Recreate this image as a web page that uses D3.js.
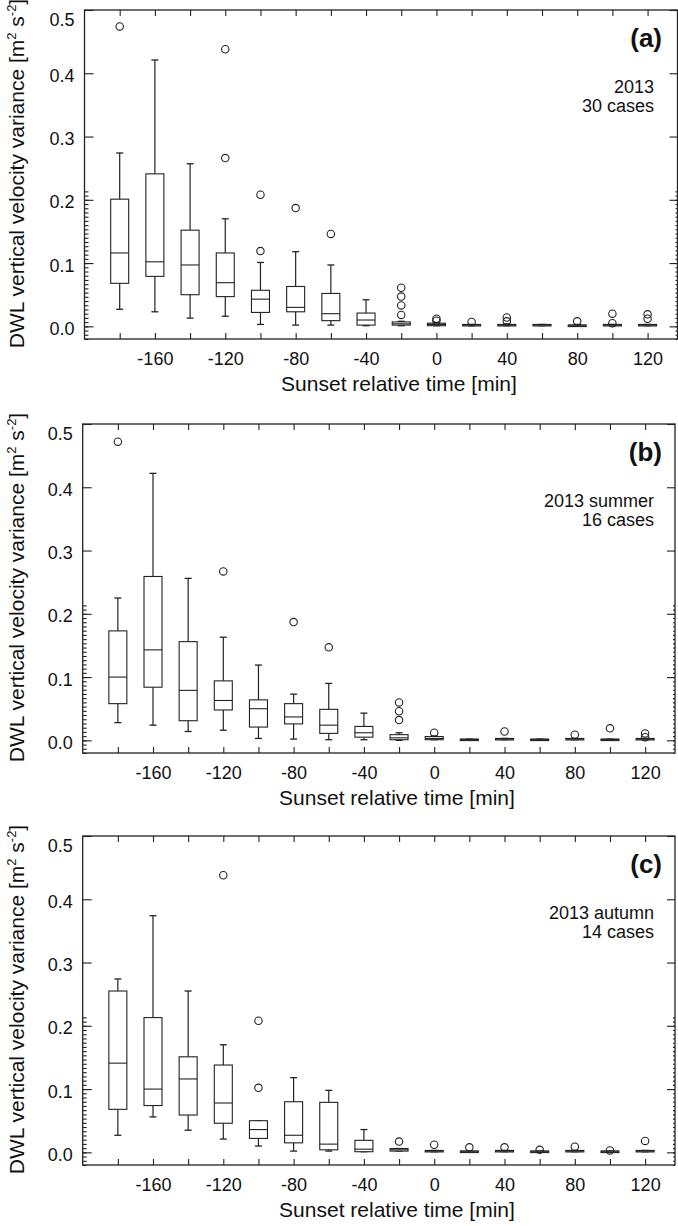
<!DOCTYPE html>
<html>
<head>
<meta charset="utf-8">
<script src="https://cdn.jsdelivr.net/npm/d3@7"></script>
<style>
  body { margin: 0; background: #fff; }
  svg text { font-family: "Liberation Sans", Arial, Helvetica, sans-serif; fill: #111; }
</style>
</head>
<body>
<div id="chart"></div>
<script>
// ========== Data ==========
const times = [-180, -160, -140, -120, -100, -80, -60, -40, -20, 0, 20, 40, 60, 80, 100, 120];
const tickLabels = [-160, -120, -80, -40, 0, 40, 80, 120];
const yTicks = [0.0, 0.1, 0.2, 0.3, 0.4, 0.5];

// (a) 2013, 30 cases
const aLow = [0.027, 0.023, 0.013, 0.016, 0.003, 0.002, 0.002, 0.001, 0.001, 0.001, 0.001, 0.001, 0.001, 0.001, 0.001, 0.001];
const aQ1  = [0.068, 0.079, 0.050, 0.047, 0.022, 0.023, 0.009, 0.002, 0.002, 0.001, 0.001, 0.001, 0.001, 0.001, 0.001, 0.001];
const aMed = [0.116, 0.102, 0.097, 0.069, 0.043, 0.030, 0.020, 0.010, 0.004, 0.003, 0.002, 0.002, 0.002, 0.002, 0.002, 0.002];
const aQ3  = [0.201, 0.241, 0.152, 0.116, 0.057, 0.063, 0.052, 0.021, 0.007, 0.005, 0.003, 0.003, 0.003, 0.002, 0.003, 0.003];
const aHigh = [0.274, 0.421, 0.257, 0.170, 0.101, 0.118, 0.097, 0.042, 0.008, 0.006, 0.003, 0.004, 0.003, 0.003, 0.003, 0.003];
const aOut = [[0.474], [], [], [0.438, 0.266], [0.208, 0.119], [0.187], [0.146], [], [0.061, 0.047, 0.033, 0.018],
              [0.012, 0.009], [0.007], [0.014, 0.008], [], [0.008], [0.020, 0.005], [0.019, 0.012]];

// (b) 2013 summer, 16 cases
const bLow = [0.028, 0.024, 0.014, 0.016, 0.003, 0.002, 0.001, 0.001, 0.000, 0.001, 0.001, 0.001, 0.001, 0.001, 0.001, 0.001];
const bQ1  = [0.058, 0.084, 0.031, 0.048, 0.021, 0.026, 0.011, 0.005, 0.001, 0.001, 0.001, 0.001, 0.001, 0.001, 0.001, 0.001];
const bMed = [0.100, 0.143, 0.079, 0.063, 0.050, 0.037, 0.024, 0.012, 0.004, 0.003, 0.0015, 0.002, 0.0015, 0.002, 0.0015, 0.002];
const bQ3  = [0.173, 0.259, 0.156, 0.094, 0.064, 0.058, 0.049, 0.022, 0.009, 0.006, 0.002, 0.003, 0.002, 0.003, 0.002, 0.003];
const bHigh = [0.225, 0.422, 0.256, 0.163, 0.119, 0.073, 0.090, 0.043, 0.012, 0.007, 0.002, 0.003, 0.002, 0.003, 0.002, 0.003];
const bOut = [[0.472], [], [], [0.267], [], [0.187], [0.147], [], [0.060, 0.046, 0.032],
              [0.012], [], [0.014], [], [0.009], [0.019], [0.011, 0.005]];

// (c) 2013 autumn, 14 cases
const cLow = [0.027, 0.056, 0.035, 0.021, 0.010, 0.002, 0.002, 0.001, 0.002, 0.001, 0.001, 0.001, 0.001, 0.001, 0.001, 0.001];
const cQ1  = [0.068, 0.074, 0.059, 0.046, 0.022, 0.015, 0.004, 0.001, 0.002, 0.001, 0.001, 0.001, 0.001, 0.001, 0.001, 0.001];
const cMed = [0.141, 0.100, 0.116, 0.078, 0.036, 0.027, 0.013, 0.005, 0.004, 0.002, 0.002, 0.002, 0.002, 0.002, 0.002, 0.002];
const cQ3  = [0.255, 0.213, 0.151, 0.138, 0.050, 0.080, 0.079, 0.019, 0.006, 0.003, 0.002, 0.003, 0.002, 0.003, 0.002, 0.003];
const cHigh = [0.274, 0.374, 0.255, 0.170, 0.050, 0.118, 0.098, 0.036, 0.006, 0.003, 0.002, 0.003, 0.002, 0.003, 0.002, 0.003];
const cOut = [[], [], [], [0.438], [0.208, 0.102], [], [], [], [0.017],
              [0.012], [0.008], [0.008], [0.004], [0.009], [0.003], [0.018]];

const panelLabels = ["(a)", "(b)", "(c)"];
const panelNotes = [["2013", "30 cases"], ["2013 summer", "16 cases"], ["2013 autumn", "14 cases"]];

// ========== Layout ==========
const W = 678, H = 1226;
const ink = "#222";
const panels = [
    { left: 84.5, right: 677.5, top: 10,  bottom: 339,  low: aLow, q1: aQ1, med: aMed, q3: aQ3, high: aHigh, out: aOut },
    { left: 82.7, right: 675,   top: 424, bottom: 753,  low: bLow, q1: bQ1, med: bMed, q3: bQ3, high: bHigh, out: bOut },
    { left: 82.7, right: 675,   top: 836, bottom: 1165, low: cLow, q1: cQ1, med: cMed, q3: cQ3, high: cHigh, out: cOut }
];

const svg = d3.select("#chart").append("svg")
    .attr("width", W)
    .attr("height", H);

const minorY = d3.range(0, 36).map(i => -0.02 + i * (0.1 / 15)).filter(v => v <= 0.5001 && v >= -0.0201);

panels.forEach((p, pi) => {
    const x = d3.scaleLinear().domain([-200, 137]).range([p.left, p.right]);
    const y = d3.scaleLinear().domain([-0.02, 0.5]).range([p.bottom, p.top]);
    const g = svg.append("g");

    // Minor ticks (left and right)
    g.append("g")
        .attr("transform", `translate(${p.left},0)`)
        .call(d3.axisLeft(y).tickValues(minorY).tickSize(-4).tickFormat(""))
        .call(s => s.select(".domain").remove());
    g.append("g")
        .attr("transform", `translate(${p.right},0)`)
        .call(d3.axisRight(y).tickValues(minorY).tickSize(-2).tickFormat(""))
        .call(s => s.select(".domain").remove());

    // Major y ticks
    g.append("g")
        .attr("transform", `translate(${p.left},0)`)
        .call(d3.axisLeft(y).tickValues(yTicks).tickSize(-9).tickPadding(10).tickFormat(d3.format(".1f")))
        .call(s => s.select(".domain").remove())
        .call(s => s.selectAll("text").attr("font-size", 18)
            .attr("dy", d => d === 0.5 ? "0.85em" : "0.45em"));
    g.append("g")
        .attr("transform", `translate(${p.right},0)`)
        .call(d3.axisRight(y).tickValues(yTicks).tickSize(-8).tickFormat(""))
        .call(s => s.select(".domain").remove());

    // x ticks (top and bottom)
    g.append("g")
        .attr("transform", `translate(0,${p.top})`)
        .call(d3.axisTop(x).tickValues(times).tickSize(-6).tickFormat(""))
        .call(s => s.select(".domain").remove());
    g.append("g")
        .attr("transform", `translate(0,${p.bottom})`)
        .call(d3.axisBottom(x).tickValues(times).tickSize(-6).tickPadding(13)
            .tickFormat(d => tickLabels.includes(d) ? d : ""))
        .call(s => s.select(".domain").remove())
        .call(s => s.selectAll("text").attr("font-size", 18));

    g.selectAll(".tick line").attr("stroke", ink).attr("stroke-width", 1.1);
    g.selectAll(".tick text").attr("fill", "#111").attr("font-family", "Liberation Sans, Arial, sans-serif");

    // Frame
    g.append("rect")
        .attr("x", p.left).attr("y", p.top)
        .attr("width", p.right - p.left).attr("height", p.bottom - p.top)
        .attr("fill", "none").attr("stroke", ink).attr("stroke-width", 1.3);

    // Boxes
    const bw = 18, cap = 3.5;
    const rows = times.map((t, i) => ({ t, lo: p.low[i], q1: p.q1[i], med: p.med[i], q3: p.q3[i], hi: p.high[i], out: p.out[i] }));
    const box = g.selectAll(".box").data(rows).enter().append("g").attr("class", "box");

    box.append("line")
        .attr("x1", d => x(d.t)).attr("x2", d => x(d.t))
        .attr("y1", d => y(d.q3)).attr("y2", d => y(d.hi))
        .attr("stroke", ink).attr("stroke-width", 1.2);
    box.append("line")
        .attr("x1", d => x(d.t)).attr("x2", d => x(d.t))
        .attr("y1", d => y(d.q1)).attr("y2", d => y(d.lo))
        .attr("stroke", ink).attr("stroke-width", 1.2);
    box.append("line")
        .attr("x1", d => x(d.t) - cap).attr("x2", d => x(d.t) + cap)
        .attr("y1", d => y(d.hi)).attr("y2", d => y(d.hi))
        .attr("stroke", ink).attr("stroke-width", 1.3);
    box.append("line")
        .attr("x1", d => x(d.t) - cap).attr("x2", d => x(d.t) + cap)
        .attr("y1", d => y(d.lo)).attr("y2", d => y(d.lo))
        .attr("stroke", ink).attr("stroke-width", 1.3);
    box.append("rect")
        .attr("x", d => x(d.t) - bw / 2).attr("width", bw)
        .attr("y", d => y(d.q3)).attr("height", d => Math.max(y(d.q1) - y(d.q3), 1.5))
        .attr("fill", "#fff").attr("stroke", ink).attr("stroke-width", 1.1);
    box.append("line")
        .attr("x1", d => x(d.t) - bw / 2).attr("x2", d => x(d.t) + bw / 2)
        .attr("y1", d => y(d.med)).attr("y2", d => y(d.med))
        .attr("stroke", ink).attr("stroke-width", 1.1);

    // Outliers
    box.selectAll("circle")
        .data(d => d.out.map(v => ({ t: d.t, v })))
        .enter().append("circle")
        .attr("cx", d => x(d.t)).attr("cy", d => y(d.v))
        .attr("r", 3.7)
        .attr("fill", "none").attr("stroke", ink).attr("stroke-width", 1.1);

    // Panel label and notes
    g.append("text")
        .attr("x", 662).attr("y", p.top + 37)
        .attr("text-anchor", "end")
        .attr("font-size", 26).attr("font-weight", "bold")
        .text(panelLabels[pi]);
    g.selectAll(".note")
        .data(panelNotes[pi])
        .enter().append("text")
        .attr("class", "note")
        .attr("x", 654).attr("y", (d, i) => p.top + 83 + i * 19)
        .attr("text-anchor", "end")
        .attr("font-size", 18)
        .text(d => d);

    // Axis titles
    g.append("text")
        .attr("x", pi === 0 ? 399 : 397).attr("y", p.bottom + 52)
        .attr("text-anchor", "middle")
        .attr("font-size", 21)
        .text("Sunset relative time [min]");

    const yt = g.append("text")
        .attr("transform", `translate(24,${(p.top + p.bottom) / 2 - 1}) rotate(-90)`)
        .attr("text-anchor", "middle")
        .attr("font-size", 21);
    yt.append("tspan").text("DWL vertical velocity variance [m");
    yt.append("tspan").attr("dy", -8).attr("font-size", 13).text("2");
    yt.append("tspan").attr("dy", 8).text(" s");
    yt.append("tspan").attr("dy", -8).attr("font-size", 13).text("-2");
    yt.append("tspan").attr("dy", 8).text("]");
});
</script>
</body>
</html>
